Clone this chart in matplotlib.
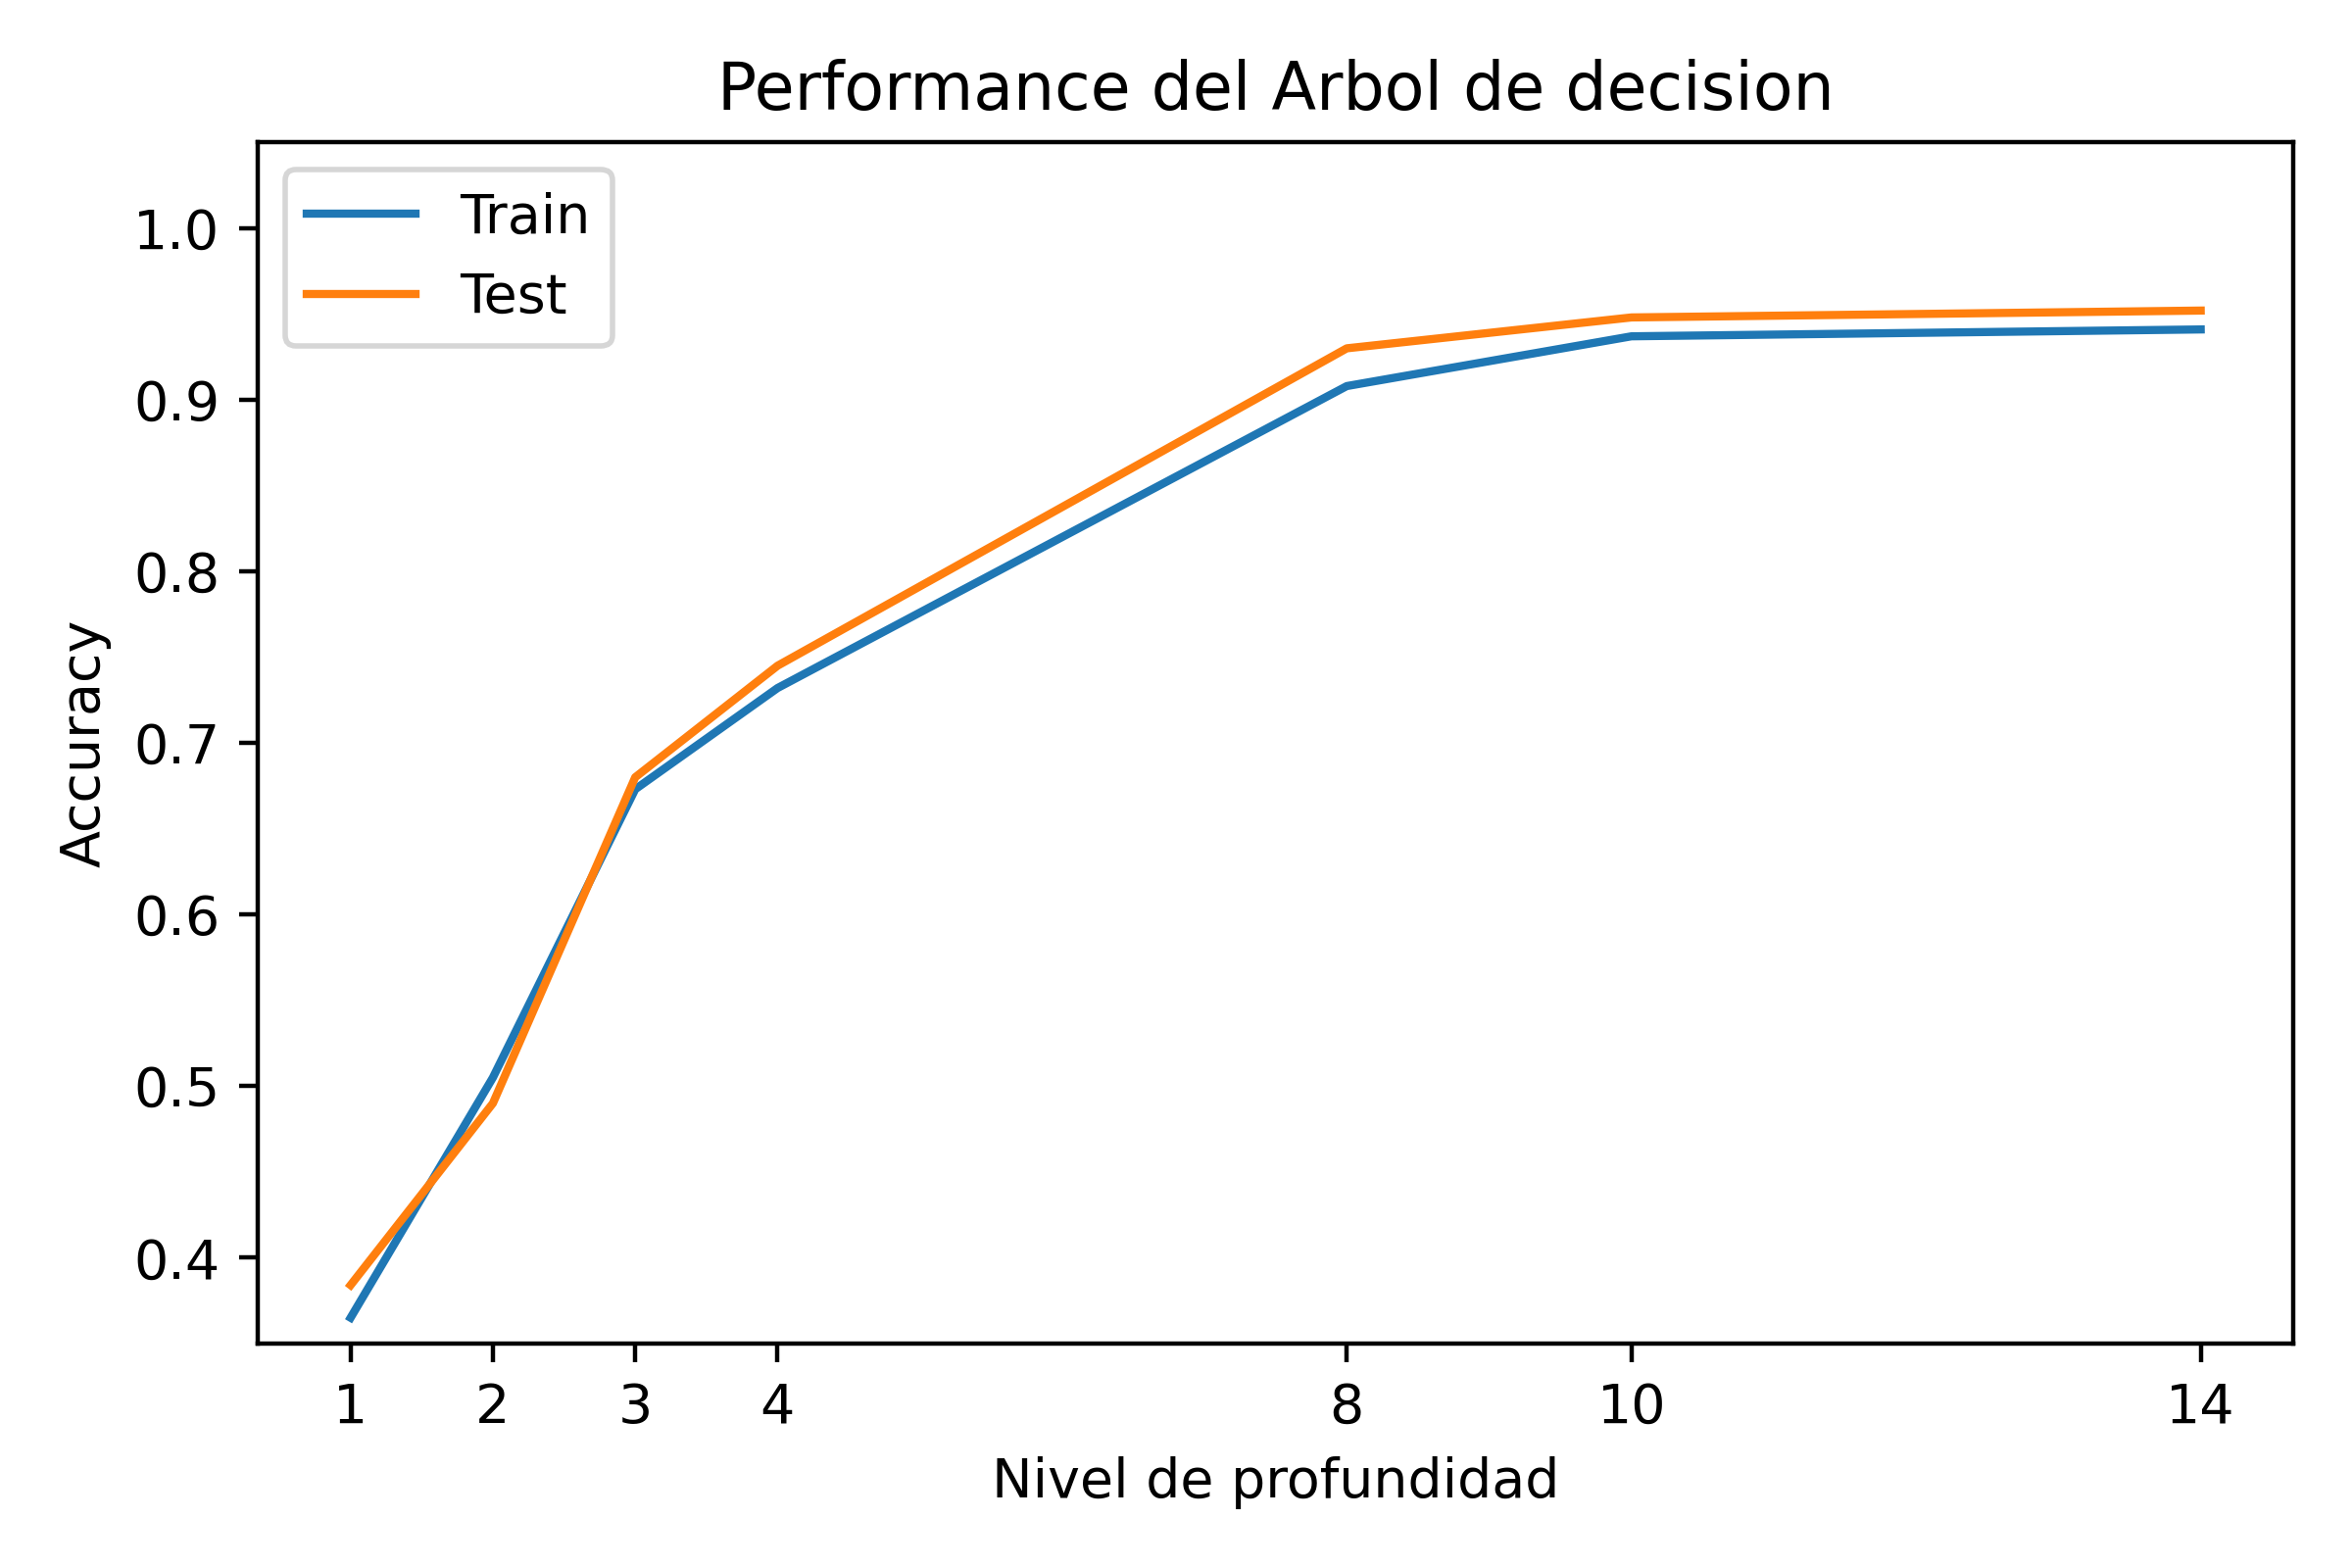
import matplotlib.pyplot as plt

depths = [1, 2, 3, 4, 8, 10, 14]
train_acc = [0.365, 0.505, 0.673, 0.732, 0.908, 0.937, 0.941]
test_acc = [0.384, 0.490, 0.680, 0.745, 0.930, 0.948, 0.952]

fig, ax = plt.subplots(figsize=(6, 4), dpi=400)
ax.plot(depths, train_acc, label='Train')
ax.plot(depths, test_acc, label='Test')
ax.set_xticks(depths)
ax.set_ylim(0.35, 1.05)
ax.set_title('Performance del Arbol de decision')
ax.set_xlabel('Nivel de profundidad')
ax.set_ylabel('Accuracy')
ax.legend(loc='upper left')
fig.tight_layout()
fig.savefig('out.png')
